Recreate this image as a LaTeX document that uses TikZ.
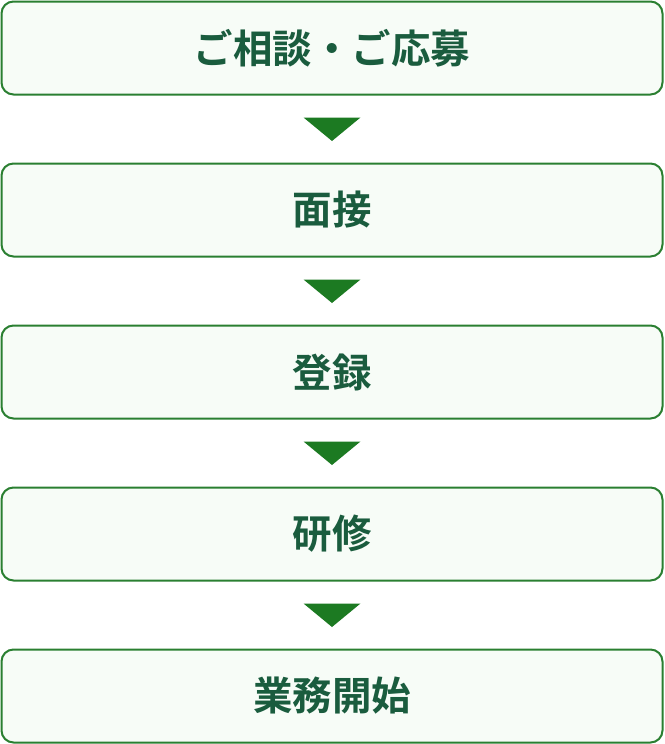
\documentclass[tikz,border=0pt]{standalone}
\usepackage{fontspec}
\newfontfamily\jpfont[UprightFont=* Bold]{Noto Sans CJK JP}
\usetikzlibrary{calc, positioning}
\definecolor{flowgreen}{HTML}{2A7F31}
\definecolor{flowfill}{HTML}{F7FCF7}
\definecolor{flowtext}{HTML}{1A5C3E}
\definecolor{flowarrow}{HTML}{1C7A22}
\tikzset{stepbox/.style={draw=flowgreen, line width=2pt, fill=flowfill, rounded corners=12pt, minimum width=661pt, minimum height=93pt, inner sep=0pt, text=flowtext, font=\jpfont\fontsize{39.5}{39.5}\selectfont}}
\tikzset{downtri/.style={fill=flowarrow}}

\begin{document}
\begin{tikzpicture}[x=1pt, y=-1pt]
        \useasboundingbox (0,0) rectangle (664,744);

        \node [stepbox] (S1) at (332, 48)  { ご相談・ご応募 };
        \node [stepbox] (S2) at (332, 210) { 面接 };
        \node [stepbox] (S3) at (332, 372) { 登録 };
        \node [stepbox] (S4) at (332, 534) { 研修 };
        \node [stepbox] (S5) at (332, 696) { 業務開始 };

        \foreach \a/\b in {S1/S2, S2/S3, S3/S4, S4/S5} {
            \coordinate (M) at ($(\a.south)!0.5!(\b.north)$);
            \fill [downtri] ($(M)+(-28.5,-11.5)$) -- ($(M)+(28.5,-11.5)$) -- ($(M)+(0,12)$) -- cycle;
        }
    \end{tikzpicture}
\end{document}
